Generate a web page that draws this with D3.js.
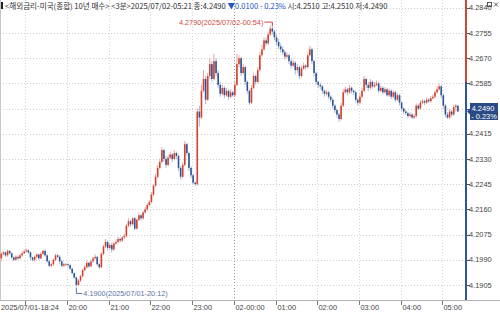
<!DOCTYPE html>
<html>
<head>
<meta charset="UTF-8" />
<title>Chart</title>
<style>
  body { margin: 0; background: #fff; }
  svg { display: block; font-family: "Liberation Sans", Arial, sans-serif; }
</style>
<script src="https://cdn.jsdelivr.net/npm/d3@7/dist/d3.min.js"></script>
</head>
<body>
<div id="chart"></div>
<script>
// 3 minute bars, prices in 1/10000
const startTime = new Date(2025, 6, 1, 18, 24);
const barMinutes = 3;
const prevClose = 4.2590;
const lastPrice = 4.2490;

const opens = [
  41995,42010,42015,42005,42020,42012,41998,41990,42000,41995,
  42005,42012,42018,42022,42015,41998,41990,42000,42008,41995,
  42010,42020,42005,41985,41970,41975,41990,42005,42000,41985,
  41970,41975,41975,41972,41960,41945,41930,41905,41920,41935,
  41955,41965,41980,41968,41985,41995,42000,41975,41965,42010,
  42035,42050,42030,42040,42025,42045,42050,42060,42055,42065,
  42070,42105,42120,42110,42130,42095,42125,42140,42130,42150,
  42160,42175,42185,42210,42240,42270,42300,42320,42360,42330,
  42310,42335,42345,42330,42350,42340,42300,42270,42310,42380,
  42350,42300,42275,42250,42245,42490,42470,42560,42600,42530,
  42610,42650,42600,42660,42620,42580,42550,42570,42545,42560,
  42540,42555,42545,42580,42650,42670,42620,42640,42590,42560,
  42520,42570,42610,42590,42630,42680,42700,42730,42720,42750,
  42770,42760,42740,42725,42710,42700,42690,42675,42680,42660,
  42645,42655,42630,42640,42610,42635,42645,42640,42680,42700,
  42660,42620,42590,42580,42575,42560,42550,42555,42540,42530,
  42510,42495,42480,42465,42510,42555,42565,42555,42570,42560,
  42555,42530,42520,42540,42560,42600,42580,42570,42590,42575,
  42580,42585,42560,42570,42555,42565,42545,42560,42540,42555,
  42530,42545,42520,42500,42490,42485,42475,42480,42470,42475,
  42510,42500,42520,42525,42520,42530,42525,42535,42540,42555,
  42565,42575,42545,42510,42480,42470,42490,42480,42505,42510
];
const closes = [
  42010,42015,42005,42020,42012,41998,41990,42000,41995,42005,
  42012,42018,42022,42015,41998,41990,42000,42008,41995,42010,
  42020,42005,41985,41970,41975,41990,42005,42000,41985,41970,
  41975,41975,41972,41960,41945,41930,41905,41920,41935,41955,
  41965,41980,41968,41985,41995,42000,41975,41965,42010,42035,
  42050,42030,42040,42025,42045,42050,42060,42055,42065,42070,
  42105,42120,42110,42130,42095,42125,42140,42130,42150,42160,
  42175,42185,42210,42240,42270,42300,42320,42360,42330,42310,
  42335,42345,42330,42350,42340,42300,42270,42310,42380,42350,
  42300,42275,42250,42245,42490,42470,42560,42600,42530,42610,
  42650,42600,42660,42620,42580,42550,42570,42545,42560,42540,
  42555,42545,42580,42650,42670,42620,42640,42590,42560,42520,
  42570,42610,42590,42630,42680,42700,42730,42720,42750,42770,
  42760,42740,42725,42710,42700,42690,42675,42680,42660,42645,
  42655,42630,42640,42610,42635,42645,42640,42680,42700,42660,
  42620,42590,42580,42575,42560,42550,42555,42540,42530,42510,
  42495,42480,42465,42510,42555,42565,42555,42570,42560,42555,
  42530,42520,42540,42560,42600,42580,42570,42590,42575,42580,
  42585,42560,42570,42555,42565,42545,42560,42540,42555,42530,
  42545,42520,42500,42490,42485,42475,42480,42470,42475,42510,
  42500,42520,42525,42520,42530,42525,42535,42540,42555,42565,
  42575,42545,42510,42480,42470,42490,42480,42505,42510,42490
];
const highs = [
  42015,42020,42018,42025,42022,42015,42002,42005,42005,42010,
  42018,42025,42028,42025,42018,42000,42005,42012,42010,42015,
  42025,42025,42008,41990,41980,41995,42010,42010,42005,41990,
  41980,41980,41978,41975,41962,41948,41935,41925,41940,41960,
  41972,41985,41982,41990,42000,42008,42002,41980,42015,42040,
  42060,42055,42045,42048,42050,42058,42068,42065,42070,42078,
  42110,42130,42125,42135,42135,42130,42148,42145,42155,42168,
  42180,42192,42218,42245,42280,42310,42330,42370,42365,42340,
  42345,42355,42350,42360,42355,42345,42305,42318,42390,42385,
  42355,42305,42280,42255,42500,42510,42580,42630,42610,42620,
  42670,42660,42685,42670,42630,42590,42580,42575,42570,42565,
  42565,42560,42590,42685,42680,42675,42650,42645,42595,42565,
  42580,42620,42615,42640,42690,42715,42740,42740,42760,42780,
  42790,42765,42750,42735,42720,42710,42698,42690,42685,42668,
  42665,42660,42650,42645,42645,42655,42650,42690,42712,42705,
  42665,42625,42595,42588,42580,42565,42562,42560,42545,42535,
  42515,42500,42485,42520,42565,42575,42570,42580,42575,42565,
  42560,42535,42550,42570,42610,42605,42590,42600,42595,42590,
  42595,42590,42578,42575,42572,42570,42568,42565,42562,42560,
  42552,42550,42525,42505,42495,42490,42488,42485,42482,42518,
  42515,42528,42532,42530,42538,42535,42542,42548,42562,42575,
  42585,42580,42550,42515,42488,42498,42495,42512,42515,42510
];
const lows = [
  41985,42005,42000,42000,42008,41990,41985,41988,41990,41992,
  42000,42010,42015,42010,41990,41985,41985,41995,41990,41992,
  42005,42000,41980,41965,41965,41970,41985,41995,41975,41965,
  41965,41970,41965,41955,41940,41925,41900,41902,41915,41930,
  41950,41960,41962,41965,41980,41990,41970,41960,41962,42005,
  42030,42020,42025,42015,42020,42040,42045,42048,42050,42060,
  42065,42100,42100,42105,42090,42092,42120,42122,42125,42145,
  42155,42170,42180,42205,42235,42265,42295,42315,42320,42300,
  42305,42330,42320,42325,42330,42290,42260,42265,42305,42340,
  42290,42265,42245,42240,42240,42440,42465,42555,42515,42525,
  42600,42590,42595,42610,42570,42540,42545,42535,42540,42530,
  42535,42540,42540,42575,42640,42610,42615,42580,42550,42512,
  42515,42565,42580,42585,42625,42675,42695,42710,42715,42745,
  42750,42730,42715,42700,42690,42680,42665,42668,42650,42635,
  42640,42615,42620,42600,42605,42630,42632,42635,42675,42650,
  42610,42580,42570,42565,42550,42540,42545,42532,42520,42500,
  42485,42470,42455,42460,42505,42550,42545,42550,42550,42545,
  42520,42510,42515,42535,42555,42570,42560,42565,42568,42570,
  42575,42552,42555,42548,42550,42540,42540,42532,42535,42522,
  42525,42510,42492,42482,42478,42468,42470,42465,42465,42470,
  42495,42495,42515,42512,42515,42518,42520,42530,42535,42550,
  42560,42535,42500,42470,42465,42465,42472,42475,42490,42490
];

const yTicks = [4.2840, 4.2755, 4.2670, 4.2585, 4.2500, 4.2415, 4.2330, 4.2245, 4.2160, 4.2075, 4.1990, 4.1905];
const hourTicks = ["19:00","20:00","21:00","22:00","23:00","00:00","01:00","02:00","03:00","04:00","05:00"];
const hourLabels = ["", "20:00","21:00","22:00","23:00","02-00:00","01:00","02:00","03:00","04:00","05:00"];
const firstLabel = "2025/07/01-18:24";
const maxLabel = "4.2790(2025/07/02-00:54)";
const minLabel = "4.1900(2025/07/01-20:12)";
const headerParts = ["<해외금리-미국(종합) 10년 매수> <3분>2025/07/02-05:21 종:4.2490 ", "▼0.0100 - 0.23%", " 시:4.2510 고:4.2510 저:4.2490"];

const RED = "#d6412f", RED_L = "#e9a59b", BLUE = "#2c5597", BLUE_L = "#a9b8d3";

const bars = opens.map((o, i) => ({
  t: d3.timeMinute.offset(startTime, i * barMinutes),
  o: o / 10000, h: highs[i] / 10000, l: lows[i] / 10000, c: closes[i] / 10000
}));

const W = 500, H = 314;
const plotRight = 465, plotBottom = 300;

const svg = d3.select("#chart").append("svg").attr("width", W).attr("height", H);

const x = d3.scaleTime()
  .domain([startTime, d3.timeMinute.offset(startTime, 220 * barMinutes)])
  .range([0.3, 459]);
const y = d3.scaleLinear().domain([4.1905, 4.2840]).range([285, 7.8]);

// hour times, day rolls over at midnight
const hourDates = hourTicks.map(s => {
  const hh = +s.split(":")[0];
  return new Date(2025, 6, hh >= 18 ? 1 : 2, hh, 0);
});

// grid
const grid = svg.append("g");
grid.selectAll(".hg").data(yTicks).enter().append("line")
  .attr("x1", 0).attr("x2", plotRight)
  .attr("y1", d => Math.round(y(d)) + 0.5).attr("y2", d => Math.round(y(d)) + 0.5)
  .attr("stroke", "#cfcfcf").attr("stroke-dasharray", "1,2");
grid.selectAll(".vg").data(hourDates).enter().append("line")
  .attr("x1", d => Math.round(x(d)) + 0.5).attr("x2", d => Math.round(x(d)) + 0.5)
  .attr("y1", 0).attr("y2", plotBottom)
  .attr("stroke", (d, i) => hourTicks[i] === "00:00" ? "#9a9a9a" : "#d4d4d4")
  .attr("stroke-dasharray", "1,2");

// frame
svg.append("line").attr("x1", 0.5).attr("x2", 0.5).attr("y1", 0).attr("y2", plotBottom).attr("stroke", "#c8c8c8");
svg.append("line").attr("x1", 0).attr("x2", W).attr("y1", plotBottom + 0.5).attr("y2", plotBottom + 0.5).attr("stroke", "#b0b0b0");

// candles
const cg = svg.append("g");
const candle = cg.selectAll("g").data(bars).enter().append("g");
candle.append("line")
  .attr("x1", d => x(d.t) + 1).attr("x2", d => x(d.t) + 1)
  .attr("y1", d => y(d.h)).attr("y2", d => y(d.l))
  .attr("stroke", d => d.c >= d.o ? RED_L : BLUE_L).attr("stroke-width", 1);
candle.append("rect")
  .attr("x", d => x(d.t) + 0.2).attr("width", 1.6)
  .attr("y", d => y(Math.max(d.o, d.c)))
  .attr("height", d => Math.max(0.8, Math.abs(y(d.o) - y(d.c))))
  .attr("fill", d => d.c >= d.o ? RED : BLUE);

// max / min annotations
const hiBar = bars.reduce((a, b) => b.h > a.h ? b : a);
const loBar = bars.reduce((a, b) => b.l < a.l ? b : a);
const hx = x(hiBar.t) + 1, hy = y(hiBar.h);
svg.append("path").attr("d", `M${hx - 8},${hy - 0.5}H${hx}V${hy + 3}`)
  .attr("fill", "none").attr("stroke", "#d14a3c");
svg.append("text").attr("x", hx - 9).attr("y", hy + 2.5).attr("text-anchor", "end")
  .attr("font-size", 7.3).attr("fill", "#d14a3c").text(maxLabel);
const lx = x(loBar.t) + 1, ly = y(loBar.l);
svg.append("path").attr("d", `M${lx},${ly + 1}V${ly + 7}H${lx + 6}`)
  .attr("fill", "none").attr("stroke", "#5c74a6");
svg.append("text").attr("x", lx + 7).attr("y", ly + 9.5)
  .attr("font-size", 7.3).attr("fill", "#5c74a6").text(minLabel);

// right axis line, red above previous close and blue below
svg.append("line").attr("x1", plotRight + 1).attr("x2", plotRight + 1)
  .attr("y1", 0).attr("y2", y(prevClose)).attr("stroke", "#d0473a").attr("stroke-width", 2);
svg.append("line").attr("x1", plotRight + 1).attr("x2", plotRight + 1)
  .attr("y1", y(prevClose)).attr("y2", plotBottom).attr("stroke", "#2f5699").attr("stroke-width", 2);

const ya = svg.append("g");
ya.selectAll("line").data(yTicks).enter().append("line")
  .attr("x1", plotRight + 2).attr("x2", plotRight + 5)
  .attr("y1", d => Math.round(y(d)) + 0.5).attr("y2", d => Math.round(y(d)) + 0.5)
  .attr("stroke", "#555");
ya.selectAll("text").data(yTicks.filter(d => Math.abs(d - 4.2500) > 1e-6)).enter().append("text")
  .attr("x", plotRight + 4).attr("y", d => y(d) + 2.6)
  .attr("font-size", 7.4).attr("fill", "#444")
  .text(d => d3.format(".4f")(d));

// current price box
const py = y(lastPrice);
svg.append("path")
  .attr("d", `M${plotRight + 2},${py}L${plotRight + 5},${py - 3}V${py - 8.5}H${W - 2}V${py + 8.5}H${plotRight + 5}V${py + 3}Z`)
  .attr("fill", "#2a4c86");
svg.append("text").attr("x", 483).attr("y", py - 1).attr("text-anchor", "middle")
  .attr("font-size", 7.4).attr("fill", "#fff").text(d3.format(".4f")(lastPrice));
svg.append("text").attr("x", 484).attr("y", py + 7).attr("text-anchor", "middle")
  .attr("font-size", 7.4).attr("fill", "#fff").text("- 0.23%");

// bottom axis
const xa = svg.append("g");
xa.selectAll("line").data(hourDates).enter().append("line")
  .attr("x1", d => Math.round(x(d)) + 0.5).attr("x2", d => Math.round(x(d)) + 0.5)
  .attr("y1", plotBottom + 1).attr("y2", plotBottom + 5).attr("stroke", "#777");
xa.selectAll("text").data(hourDates).enter().append("text")
  .attr("x", d => Math.round(x(d)) + 1.5).attr("y", 310)
  .attr("font-size", 7.4).attr("fill", "#444")
  .text((d, i) => hourLabels[i]);
xa.append("text").attr("x", 1).attr("y", 310).attr("font-size", 7.4).attr("fill", "#444").text(firstLabel);

// header: natural flow, then squeezed horizontally to the reference width
svg.append("rect").attr("x", 1).attr("y", 2).attr("width", 2).attr("height", 7).attr("fill", "#222");
const headG = svg.append("g");
const head = headG.append("text").attr("x", 0).attr("y", 9)
  .attr("font-family", "'Noto Sans CJK KR', 'Liberation Sans', sans-serif")
  .attr("font-size", 8).attr("fill", "#333");
head.selectAll("tspan").data(headerParts).enter().append("tspan")
  .attr("fill", (d, i) => i === 1 ? "#2456c6" : "#333")
  .text(d => d);
const headW = head.node().getComputedTextLength();
headG.attr("transform", `translate(5,0) scale(${383 / headW},1)`);

// window icons
svg.append("rect").attr("x", 487.5).attr("y", 2.5).attr("width", 4).attr("height", 4)
  .attr("fill", "none").attr("stroke", "#555");
svg.append("path").attr("d", "M494,2.5L498,6.5M498,2.5L494,6.5").attr("stroke", "#555");
</script>
</body>
</html>
